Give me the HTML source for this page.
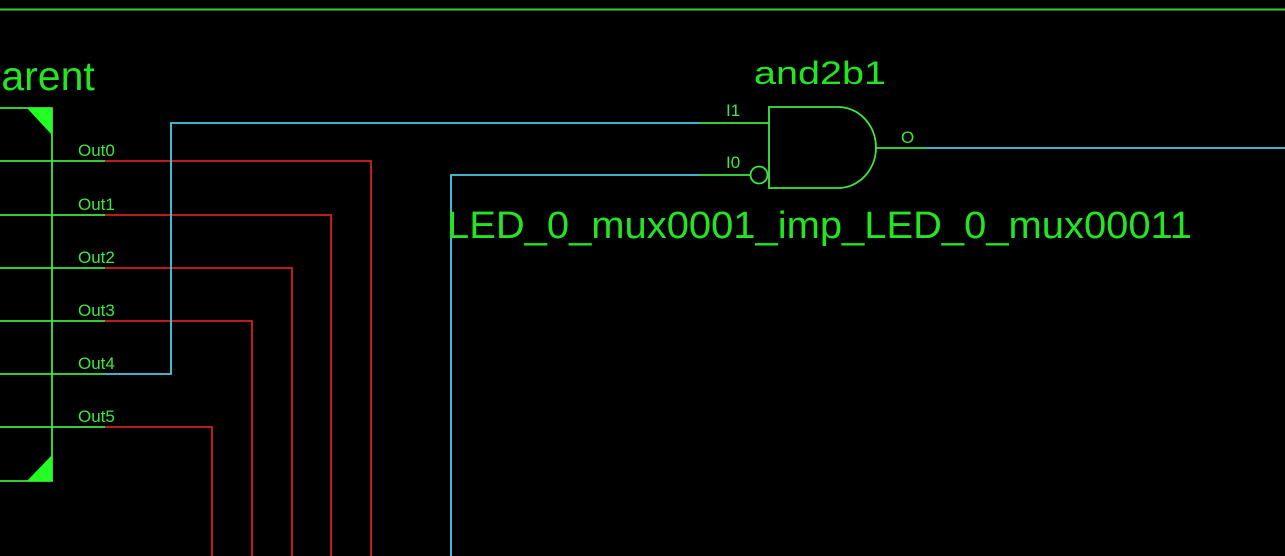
<!DOCTYPE html>
<html><head><style>html,body{margin:0;padding:0;background:#000;width:1285px;height:556px;overflow:hidden}</style></head>
<body>
<svg width="1285" height="556" xmlns="http://www.w3.org/2000/svg" style="display:block" font-family="Liberation Sans, sans-serif">
<rect width="1285" height="556" fill="#000"/>
<line x1="0" y1="9.5" x2="1285" y2="9.5" stroke="#2fd02f" stroke-width="2"/>
<text x="-26" y="90" font-size="41" fill="#22e622">Parent</text>
<polyline points="0,108 52,108 52,481 0,481" fill="none" stroke="#3ee83e" stroke-width="1.8"/>
<polygon points="27,108 52,108 52,135" fill="#22ff22"/>
<polygon points="27,481 52,481 52,455" fill="#22ff22"/>
<g stroke="#3ee83e" stroke-width="1.8">
<line x1="0" y1="161" x2="105" y2="161"/><line x1="0" y1="215" x2="105" y2="215"/>
<line x1="0" y1="268" x2="105" y2="268"/><line x1="0" y1="321" x2="105" y2="321"/>
<line x1="0" y1="374" x2="105" y2="374"/><line x1="0" y1="427" x2="105" y2="427"/>
</g>
<g font-size="17" fill="#3ee83e">
<text x="78" y="156">Out0</text><text x="78" y="210">Out1</text><text x="78" y="263">Out2</text>
<text x="78" y="316">Out3</text><text x="78" y="369">Out4</text><text x="78" y="422">Out5</text>
</g>
<g fill="none" stroke="#d42020" stroke-width="1.8">
<polyline points="105,161 371,161 371,556"/>
<polyline points="105,215 331,215 331,556"/>
<polyline points="105,268 292,268 292,556"/>
<polyline points="105,321 252,321 252,556"/>
<polyline points="105,427 212,427 212,556"/>
</g>
<g fill="none" stroke="#48cce4" stroke-width="1.8">
<polyline points="105,374 171,374 171,123 700,123"/>
<polyline points="451,556 451,175 700,175"/>
<line x1="925" y1="148" x2="1285" y2="148"/>
</g>
<g fill="none" stroke="#3ee83e" stroke-width="1.8">
<line x1="700" y1="123" x2="769" y2="123"/>
<line x1="700" y1="175" x2="750" y2="175"/>
<circle cx="759" cy="175" r="8.5"/>
<path d="M769,107 L838,107 A38,40.5 0 0 1 838,188 L769,188 Z"/>
<line x1="876" y1="148" x2="925" y2="148"/>
</g>
<g font-size="17" fill="#3ee83e">
<text x="726" y="116">I1</text><text x="726" y="168">I0</text><text x="901" y="143">O</text>
</g>
<text x="754" y="84" font-size="32" fill="#22e622" textLength="132" lengthAdjust="spacingAndGlyphs">and2b1</text>
<text x="447" y="238" font-size="38" fill="#22e622" textLength="745" lengthAdjust="spacingAndGlyphs">LED_0_mux0001_imp_LED_0_mux00011</text>
</svg>
</body></html>
